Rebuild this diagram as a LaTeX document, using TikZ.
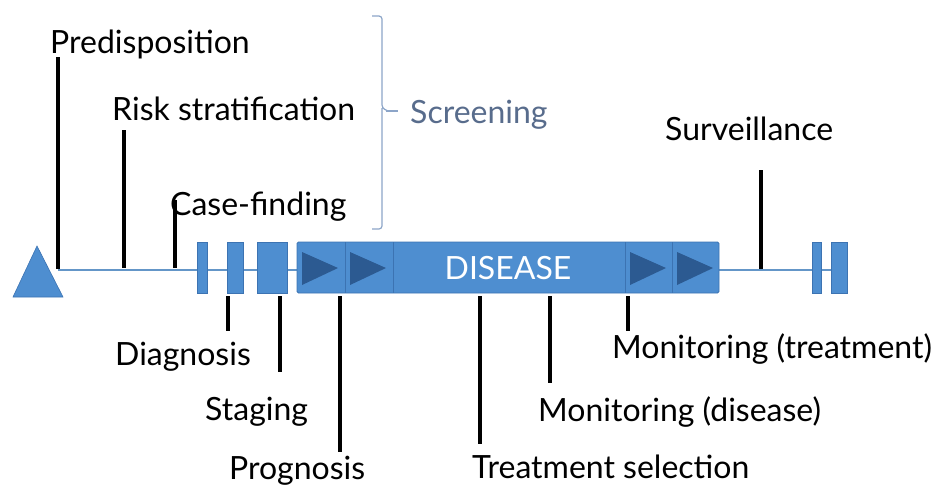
\documentclass[tikz,border=0pt]{standalone}
\usepackage{fontspec}
\setmainfont{Lato}
\begin{document}
\begin{tikzpicture}[x=1pt,y=-1pt,
  barblue/.style={fill=barfill,draw=barline,line width=0.8pt},
  tick/.style={line width=3.2pt,draw=black},
  lbl/.style={anchor=base west,inner sep=0pt,font=\fontsize{32}{36}\selectfont},
  playtri/.style={fill=arrowdark,draw=none}]
\definecolor{barfill}{RGB}{78,142,208}
\definecolor{barline}{RGB}{60,115,178}
\definecolor{arrowdark}{RGB}{44,90,145}
\definecolor{axisline}{RGB}{100,150,200}
\definecolor{screencol}{RGB}{88,108,140}
\definecolor{bracecol}{RGB}{140,165,200}
\useasboundingbox (0,0) rectangle (947,488);

% timeline axis
\coordinate (axL) at (58,270);
\coordinate (axR) at (845,270);
\draw[axisline,line width=1.2pt] (axL) -- (axR);

% start marker
\filldraw[fill=barfill,draw=barline,line width=0.6pt] (13,297) -- (37,246) -- (63,297) -- cycle;

% early blocks
\node[barblue,minimum width=10pt,minimum height=51pt,inner sep=0pt] (b1) at (202,267.5) {};
\node[barblue,minimum width=16pt,minimum height=51pt,inner sep=0pt] (b2) at (235,267.5) {};
\node[barblue,minimum width=30pt,minimum height=51pt,inner sep=0pt] (b3) at (272,267.5) {};

% disease bar
\filldraw[fill=barfill,draw=barline,line width=0.8pt,rounded corners=1.5pt] (297,242) rectangle (719,293);
\draw[barline,line width=0.8pt] (345,242) -- (345,293) (393,242) -- (393,293)
  (625,242) -- (625,293) (672,242) -- (672,293);
\foreach \x in {302,350,630,677}{
  \fill[arrowdark] (\x,252) -- (\x+36,268) -- (\x,285) -- cycle;
}
\node[text=white,font=\fontsize{32}{36}\selectfont,inner sep=0pt] (dis) at (508,268) {DISEASE};

% late blocks
\node[barblue,minimum width=9pt,minimum height=51pt,inner sep=0pt] (b4) at (816.5,267.5) {};
\node[barblue,minimum width=16pt,minimum height=51pt,inner sep=0pt] (b5) at (839,267.5) {};

% labels above
\node[lbl] (pre) at (50,53) {Predisposition};
\node[lbl] (risk) at (112,120) {Risk stratification};
\node[lbl] (case) at (170,215) {Case-finding};
\node[lbl] (surv) at (665,140) {Surveillance};
\node[lbl,text=screencol] (scr) at (410,123) {Screening};

% labels below
\node[lbl] (diag) at (115,365) {Diagnosis};
\node[lbl] (stag) at (205,420) {Staging};
\node[lbl] (prog) at (229,479) {Prognosis};
\node[lbl] (treat) at (472,478) {Treatment selection};
\node[lbl] (mond) at (538,421) {Monitoring (disease)};
\node[lbl] (mont) at (612,358) {Monitoring (treatment)};

% ticks above the axis
\draw[tick] (58,57) -- (58,269);
\draw[tick] (124,130) -- (124,268);
\draw[tick] (175,200) -- (175,268);
\draw[tick] (761,170) -- (761,269);

% ticks below the axis
\draw[tick] (228,296) -- (228,331);
\draw[tick] (280,296) -- (280,372);
\draw[tick] (340,296) -- (340,452);
\draw[tick] (480,296) -- (480,444);
\draw[tick] (550,296) -- (550,383);
\draw[tick] (628,296) -- (628,331);

% screening brace
\draw[bracecol,line width=1.2pt,rounded corners=3pt]
  (372,16) -- (382,16) -- (382,108) -- (388,111) (382,108) -- (382,229) -- (372,229);
\draw[bracecol,line width=1.2pt] (386,111) -- (398,111);
\end{tikzpicture}
\end{document}
